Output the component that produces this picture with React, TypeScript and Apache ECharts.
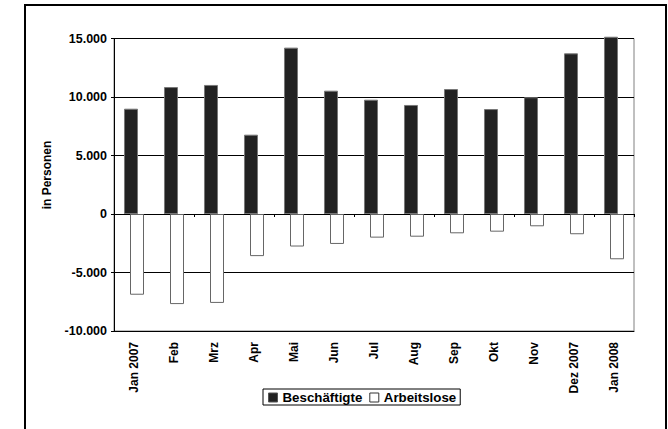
import React, { useEffect, useRef } from "react";
import * as echarts from "echarts";

const categories = ["Jan 2007", "Feb", "Mrz", "Apr", "Mai", "Jun", "Jul", "Aug", "Sep", "Okt", "Nov", "Dez 2007", "Jan 2008"];
const beschaeftigte = [9000, 10850, 11030, 6780, 14220, 10540, 9770, 9320, 10680, 8970, 9980, 13730, 15150];
const arbeitslose = [-6900, -7700, -7600, -3600, -2780, -2560, -2020, -1940, -1650, -1510, -1050, -1730, -3870];
const yTicks = { min: -10000, max: 15000, interval: 5000 };

const FONT = "'Liberation Sans', Arial, sans-serif";

function fmt(v: number) {
  const s = Math.abs(v).toString().replace(/\B(?=(\d{3})+(?!\d))/g, ".");
  return (v < 0 ? "-" : "") + s;
}

export default function App() {
  const ref = useRef<HTMLDivElement>(null);
  useEffect(() => {
    if (!ref.current) return;
    const chart = echarts.init(ref.current, null, { renderer: "svg" });
    chart.setOption({
      animation: false,
      backgroundColor: "#fff",
      textStyle: { fontFamily: FONT },
      grid: { left: 114, top: 38.5, right: 34, bottom: 98, show: true, borderColor: "#808080", borderWidth: 1 },
      graphic: [
        { type: "rect", shape: { x: 25, y: 5, width: 641, height: 440 }, style: { fill: "none", stroke: "#000", lineWidth: 2 }, z: 100 },
        { type: "text", x: 47, y: 175, rotation: Math.PI / 2, style: { text: "in Personen", font: `bold 12px ${FONT}`, fill: "#000", align: "center", verticalAlign: "middle" } },
      ],
      legend: {
        left: 263,
        top: 389,
        orient: "horizontal",
        borderColor: "#000",
        borderWidth: 1,
        padding: [2, 4, 1, 5],
        itemGap: 7,
        itemWidth: 9,
        itemHeight: 9,
        textStyle: { fontFamily: FONT, fontWeight: "bold", fontSize: 13.3, color: "#000" },
        data: [
          { name: "Beschäftigte", icon: "rect", itemStyle: { color: "#222", borderColor: "#555", borderWidth: 1 } },
          { name: "Arbeitslose", icon: "rect", itemStyle: { color: "#fff", borderColor: "#333", borderWidth: 1 } },
        ],
      },
      xAxis: [
        {
          type: "category",
          data: categories,
          axisLine: { onZero: true, lineStyle: { color: "#000", width: 1 } },
          axisTick: { show: true, length: 3, lineStyle: { color: "#000" } },
          axisLabel: { show: false },
          splitLine: { show: false },
        },
        {
          type: "category",
          data: categories,
          position: "bottom",
          axisLine: { show: true, onZero: false, lineStyle: { color: "#000" } },
          axisTick: { show: false },
          axisLabel: { rotate: 90, margin: 11, interval: 0, fontFamily: FONT, fontWeight: "bold", fontSize: 12, color: "#000" },
        },
      ],
      yAxis: {
        type: "value",
        min: yTicks.min,
        max: yTicks.max,
        interval: yTicks.interval,
        axisLine: { show: true, lineStyle: { color: "#000" } },
        axisTick: { show: true, length: 3, lineStyle: { color: "#000" } },
        splitLine: { show: true, lineStyle: { color: "#000", width: 1 } },
        axisLabel: { formatter: (v: number) => fmt(v), fontFamily: FONT, fontWeight: "bold", fontSize: 12.5, color: "#000", margin: 7 },
      },
      series: [
        {
          name: "Beschäftigte",
          type: "bar",
          xAxisIndex: 0,
          data: beschaeftigte,
          barWidth: 14,
          barGap: "-57%",
          clip: false,
          itemStyle: { color: "#222", borderColor: "#777", borderWidth: 1 },
        },
        {
          name: "Arbeitslose",
          type: "bar",
          xAxisIndex: 0,
          data: arbeitslose,
          barWidth: 14,
          clip: false,
          itemStyle: { color: "#fff", borderColor: "#666", borderWidth: 1 },
        },
      ],
    });
    return () => chart.dispose();
  }, []);
  return <div ref={ref} style={{ position: "fixed", left: 0, top: 0, width: 668, height: 429 }} />;
}
